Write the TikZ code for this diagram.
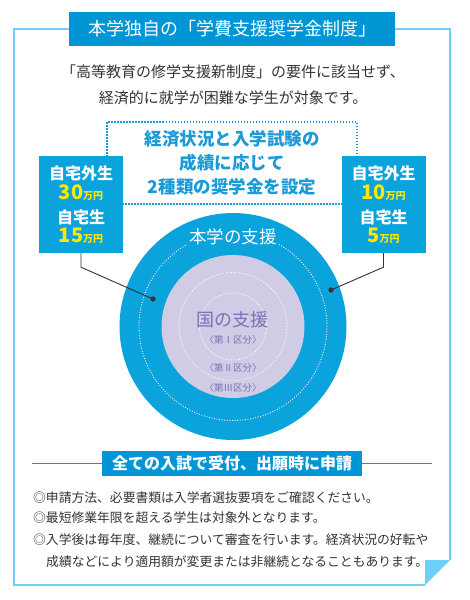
\documentclass[tikz,border=0pt]{standalone}
\usepackage{fontspec}
\setmainfont{Noto Sans CJK JP}
\newfontfamily\jp{Noto Sans CJK JP}
\usetikzlibrary{positioning}
\definecolor{frameblue}{HTML}{6FCFF6}
\definecolor{mainblue}{HTML}{0AA3DC}
\definecolor{titleblue}{HTML}{0096D6}
\definecolor{textblue}{HTML}{1A9AD6}
\definecolor{moneyyellow}{HTML}{FFE800}
\definecolor{lavender}{HTML}{D0CCE6}
\definecolor{violettext}{HTML}{7A72B4}
\definecolor{bodygray}{HTML}{333333}
\newcommand{\fs}[1]{\fontsize{#1}{#1}\selectfont}
\begin{document}
\begin{tikzpicture}[x=1pt,y=-1pt,
  every node/.style={inner sep=0pt,font=\jp},
  bandbox/.style={fill=titleblue,text=white},
  amountbox/.style={fill=mainblue,minimum width=84pt,minimum height=97pt},
  boxlabel/.style={text=white,font=\jp\bfseries\fs{16}},
  amount/.style={text=moneyyellow,anchor=base,font=\jp\bfseries\fs{20}},
  ringdots/.style={white,line width=0.9pt,dash pattern=on 0.9pt off 1.7pt},
  connector/.style={draw=bodygray,line width=0.9pt},
  note/.style={anchor=base west,text=bodygray,font=\jp\fs{12.8}}]
  \useasboundingbox (0,0) rectangle (469,600);
  % frame with folded corner
  \draw[frameblue,line width=2.6pt] (425,585) -- (14,585) -- (14,29) -- (450,29) -- (450,560);
  \fill[frameblue] (425,560) -- (450,560) -- (425,585) -- cycle;
  \node[bandbox,minimum width=326pt,minimum height=34pt,font=\jp\fs{18}] (title) at (232,29) {本学独自の「学費支援奨学金制度」};
  \node[text=bodygray,font=\jp\fs{15}] (lead1) at (233,72) {「高等教育の修学支援新制度」の要件に該当せず、};
  \node[text=bodygray,font=\jp\fs{15}] (lead2) at (233,98) {経済的に就学が困難な学生が対象です。};
  % dotted criteria box
  \node[draw=textblue,line width=1.4pt,dash pattern=on 1.5pt off 1.5pt,minimum width=250pt,minimum height=82pt,
    align=center,text=textblue,font=\jp\bfseries\fontsize{17.5}{24}\selectfont] (criteria) at (232,163)
    {経済状況と入学試験の\\成績に応じて\\2種類の奨学金を設定};
  % rings
  \fill[mainblue] (233,326.5) circle (113.5pt);
  \draw[ringdots] (233,326.5) circle (94pt);
  \fill[lavender] (233,326.5) circle (71.5pt);
  \draw[ringdots] (233,326.5) circle (54pt);
  \draw[ringdots] (233,326.5) circle (33.5pt);
  \node[fill=mainblue,inner sep=2pt,text=white,font=\jp\fs{17.5}] (own) at (233,237) {本学の支援};
  \node[text=violettext,font=\jp\fs{18}] (state) at (232,320) {国の支援};
  \node[text=violettext,font=\jp\fs{9.5}] (cat1) at (233,340) {〈第Ⅰ区分〉};
  \node[text=violettext,font=\jp\fs{9.5}] (cat2) at (233,368) {〈第Ⅱ区分〉};
  \node[text=violettext,font=\jp\fs{9.5}] (cat3) at (233,388) {〈第Ⅲ区分〉};
  % amount boxes
  \node[amountbox] (lbox) at (81,204.5) {};
  \node[boxlabel] (lout) at (81,173) {自宅外生};
  \node[amount] (loutsum) at (81,199) {30\fs{10}万円};
  \node[boxlabel] (lhome) at (81,217) {自宅生};
  \node[amount] (lhomesum) at (81,242) {15\fs{10}万円};
  \node[amountbox] (rbox) at (383.5,204.5) {};
  \node[boxlabel] (rout) at (383.5,173) {自宅外生};
  \node[amount] (routsum) at (383.5,199) {10\fs{10}万円};
  \node[boxlabel] (rhome) at (383.5,217) {自宅生};
  \node[amount] (rhomesum) at (383.5,242) {5\fs{10}万円};
  \coordinate (ldot) at (153,299);
  \coordinate (rdot) at (331,290);
  \draw[connector] (lbox.south) -- ++(0,14) -- (ldot);
  \draw[connector] (rbox.south) -- ++(0,14) -- (rdot);
  \fill[bodygray] (ldot) circle (2.6pt);
  \fill[bodygray] (rdot) circle (2.6pt);
  % application
  \draw[titleblue,line width=0.8pt] (32,463) -- (432,463);
  \node[bandbox,minimum width=260pt,minimum height=25pt,font=\jp\bfseries\fs{16}] (apply) at (232,463.5) {全ての入試で受付、出願時に申請};
  \node[note] (note1) at (33,502) {◎申請方法、必要書類は入学者選抜要項をご確認ください。};
  \node[note] (note2) at (33,522) {◎最短修業年限を超える学生は対象外となります。};
  \node[note] (note3) at (33,544) {◎入学後は毎年度、継続について審査を行います。経済状況の好転や};
  \node[note] (note4) at (46,566) {成績などにより適用額が変更または非継続となることもあります。};
\end{tikzpicture}
\end{document}
